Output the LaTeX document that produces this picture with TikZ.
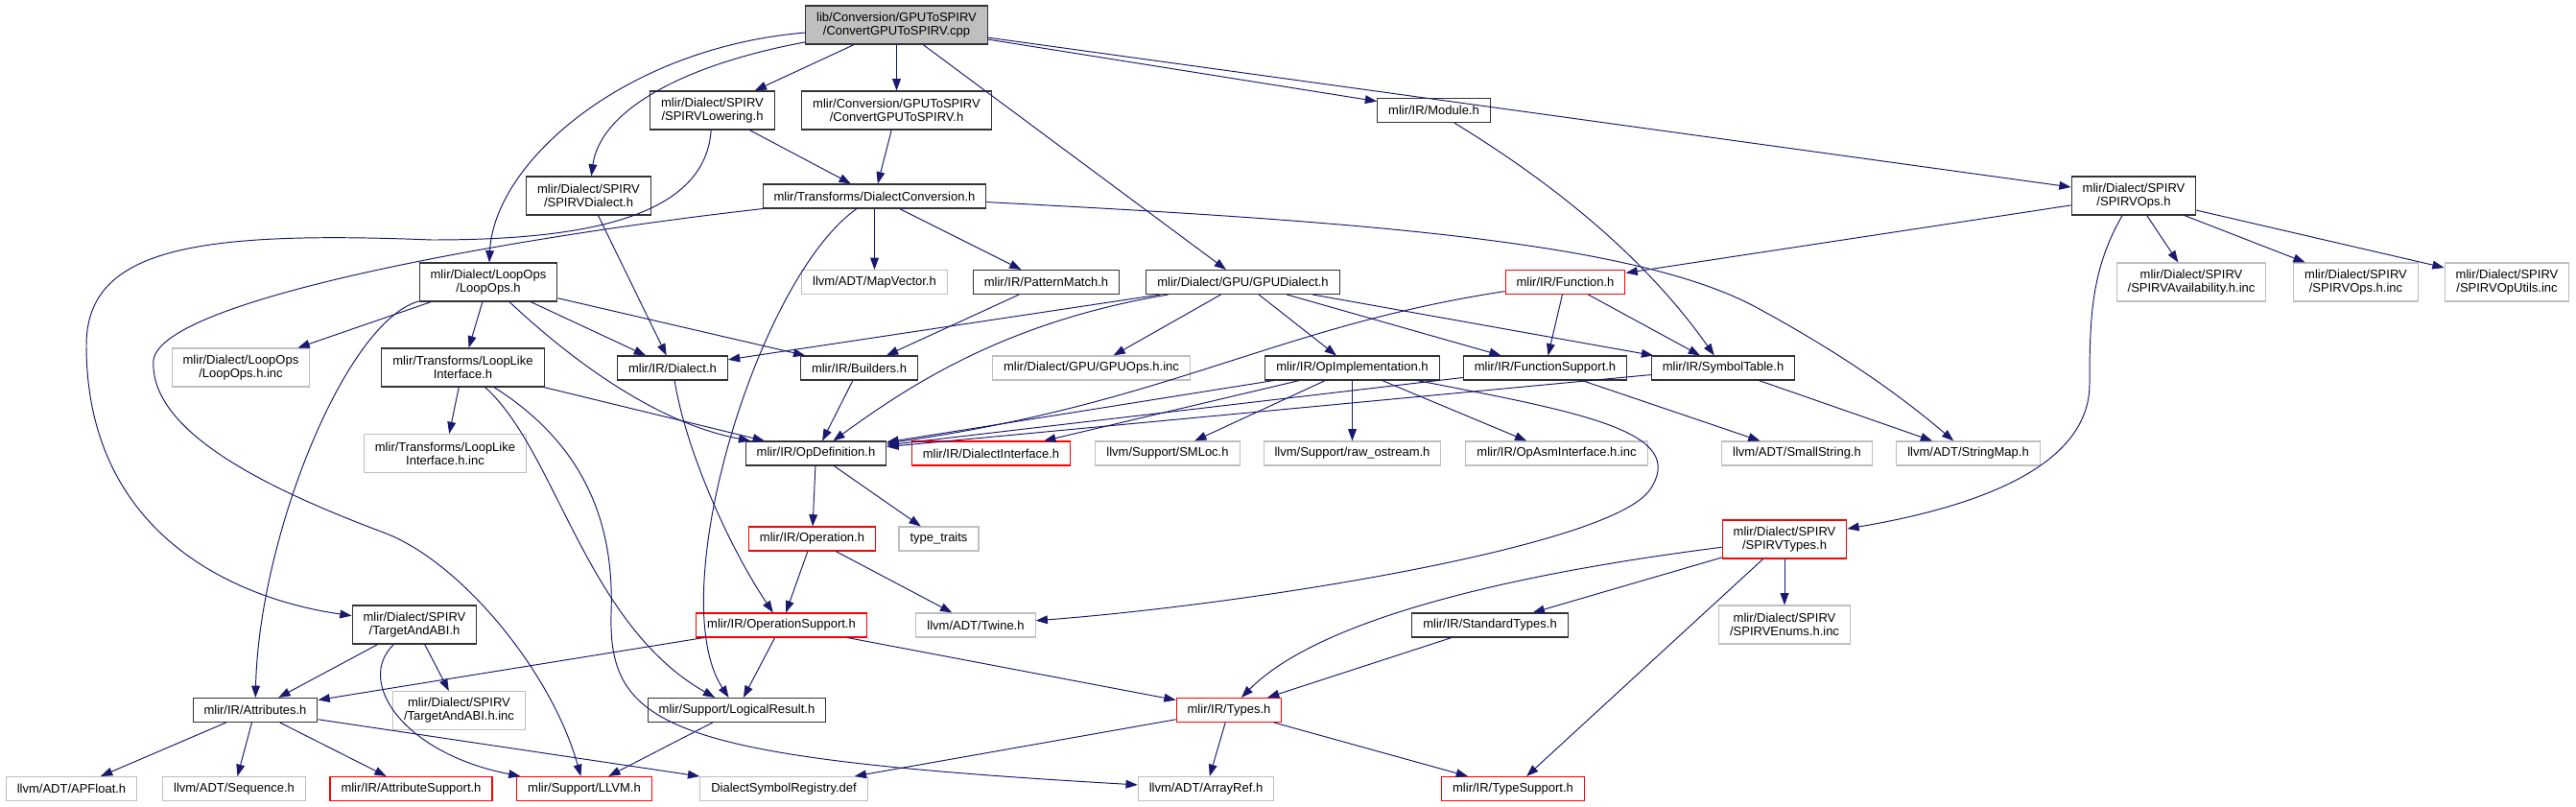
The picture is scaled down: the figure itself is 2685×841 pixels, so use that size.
\documentclass[tikz,border=0pt]{standalone}
\usepackage{fontspec}
\setmainfont{Liberation Sans}
\usetikzlibrary{arrows.meta}
\definecolor{edgeblue}{RGB}{25,25,112}
\definecolor{grey75}{RGB}{191,191,191}
\begin{document}
\begin{tikzpicture}[x=0.02cm,y=-0.02cm,
  font=\fontsize{7.4}{8}\selectfont,
  hdr/.style={draw=black!80,line width=0.6pt,align=center,inner xsep=0.23cm,inner ysep=2pt,minimum height=0.5cm},
  ext/.style={hdr,draw=grey75},
  trunc/.style={hdr,draw=red},
  two/.style={minimum height=0.8cm},
  inc/.style={draw=edgeblue,line width=0.55pt,-{Triangle[length=7pt,width=5pt]}}]
\useasboundingbox (0,0) rectangle (2685,841);
\node[hdr,two,fill=grey75] (root) at (934.5,26) {lib/Conversion/GPUToSPIRV\\/ConvertGPUToSPIRV.cpp};
\node[hdr,two] (spirvlowering) at (742.5,115) {mlir/Dialect/SPIRV\\/SPIRVLowering.h};
\node[hdr,two] (convertgpu) at (934.5,115) {mlir/Conversion/GPUToSPIRV\\/ConvertGPUToSPIRV.h};
\node[hdr] (module) at (1494.5,115) {mlir/IR/Module.h};
\node[hdr,two] (spirvdialect) at (613.5,204) {mlir/Dialect/SPIRV\\/SPIRVDialect.h};
\node[hdr] (dialectconversion) at (911.5,204.5) {mlir/Transforms/DialectConversion.h};
\node[hdr,two] (spirvops) at (2224,204) {mlir/Dialect/SPIRV\\/SPIRVOps.h};
\node[hdr,two] (loopops) at (509,294) {mlir/Dialect/LoopOps\\/LoopOps.h};
\node[ext] (mapvector) at (911.5,294) {llvm/ADT/MapVector.h};
\node[hdr] (patternmatch) at (1090.5,294) {mlir/IR/PatternMatch.h};
\node[hdr] (gpudialect) at (1295.5,294) {mlir/Dialect/GPU/GPUDialect.h};
\node[trunc] (function) at (1631.5,294) {mlir/IR/Function.h};
\node[ext,two] (spirvavail) at (2284,294) {mlir/Dialect/SPIRV\\/SPIRVAvailability.h.inc};
\node[ext,two] (spirvopsinc) at (2455.5,294) {mlir/Dialect/SPIRV\\/SPIRVOps.h.inc};
\node[ext,two] (spirvoputils) at (2613,294) {mlir/Dialect/SPIRV\\/SPIRVOpUtils.inc};
\node[ext,two] (loopopsinc) at (251,383) {mlir/Dialect/LoopOps\\/LoopOps.h.inc};
\node[hdr,two] (looplike) at (482.5,383) {mlir/Transforms/LoopLike\\Interface.h};
\node[hdr] (dialect) at (701,383.5) {mlir/IR/Dialect.h};
\node[hdr] (builders) at (895.5,383.5) {mlir/IR/Builders.h};
\node[ext] (gpuopsinc) at (1137.5,383.5) {mlir/Dialect/GPU/GPUOps.h.inc};
\node[hdr] (opimpl) at (1409.5,383.5) {mlir/IR/OpImplementation.h};
\node[hdr] (functionsupport) at (1610.5,383.5) {mlir/IR/FunctionSupport.h};
\node[hdr] (symboltable) at (1796,383.5) {mlir/IR/SymbolTable.h};
\node[ext,two] (looplikeinc) at (464,472.5) {mlir/Transforms/LoopLike\\Interface.h.inc};
\node[hdr] (opdefinition) at (850.5,472.5) {mlir/IR/OpDefinition.h};
\node[trunc] (dialectinterface) at (1033,472.5) {mlir/IR/DialectInterface.h};
\node[ext] (smloc) at (1217,472.5) {llvm/Support/SMLoc.h};
\node[ext] (rawostream) at (1409.5,472.5) {llvm/Support/raw\_ostream.h};
\node[ext] (opasm) at (1622.5,472.5) {mlir/IR/OpAsmInterface.h.inc};
\node[ext] (smallstring) at (1873,472.5) {llvm/ADT/SmallString.h};
\node[ext] (stringmap) at (2051.5,472.5) {llvm/ADT/StringMap.h};
\node[trunc] (operation) at (846.5,561.5) {mlir/IR/Operation.h};
\node[ext] (typetraits) at (978.5,561.5) {type\_traits};
\node[trunc,two] (spirvtypes) at (1860,562) {mlir/Dialect/SPIRV\\/SPIRVTypes.h};
\node[hdr,two] (targetabi) at (432,651) {mlir/Dialect/SPIRV\\/TargetAndABI.h};
\node[trunc] (opsupport) at (814.5,651.5) {mlir/IR/OperationSupport.h};
\node[ext] (twine) at (1017,651.5) {llvm/ADT/Twine.h};
\node[hdr] (standardtypes) at (1553,651.5) {mlir/IR/StandardTypes.h};
\node[ext,two] (spirvenums) at (1860,651) {mlir/Dialect/SPIRV\\/SPIRVEnums.h.inc};
\node[hdr] (attributes) at (266,740) {mlir/IR/Attributes.h};
\node[ext,two] (targetabiinc) at (478.5,740.5) {mlir/Dialect/SPIRV\\/TargetAndABI.h.inc};
\node[hdr] (logicalresult) at (768,740) {mlir/Support/LogicalResult.h};
\node[trunc] (types) at (1281,740) {mlir/IR/Types.h};
\node[ext] (apfloat) at (74.5,822) {llvm/ADT/APFloat.h};
\node[ext] (sequence) at (244,822) {llvm/ADT/Sequence.h};
\node[trunc] (attrsupport) at (428.5,822) {mlir/IR/AttributeSupport.h};
\node[trunc] (llvm) at (609,822) {mlir/Support/LLVM.h};
\node[ext] (dsr) at (817,822) {DialectSymbolRegistry.def};
\node[ext] (arrayref) at (1257,822) {llvm/ADT/ArrayRef.h};
\node[trunc] (typesupport) at (1577,822) {mlir/IR/TypeSupport.h};
\draw[inc] (root) .. controls (650,50) and (515,170) .. (loopops);
\draw[inc] (root) .. controls (700,70) and (625,120) .. (spirvdialect);
\draw[inc] (root) -- (spirvlowering);
\draw[inc] (root) -- (convertgpu);
\draw[inc] (root) -- (gpudialect);
\draw[inc] (root) -- (module);
\draw[inc] (root) -- (spirvops);
\draw[inc] (spirvlowering) -- (dialectconversion);
\draw[inc] (spirvlowering) .. controls (735,230) and (600,250) .. (450,250) .. controls (200,240) and (90,260) .. (90,360) .. controls (90,560) and (250,625) .. (targetabi);
\draw[inc] (convertgpu) -- (dialectconversion);
\draw[inc] (spirvdialect) -- (dialect);
\draw[inc] (dialectconversion) .. controls (550,245) and (170,310) .. (160,375) .. controls (155,450) and (280,510) .. (400,555) .. controls (480,585) and (575,700) .. (llvm);
\draw[inc] (dialectconversion) -- (mapvector);
\draw[inc] (dialectconversion) -- (patternmatch);
\draw[inc] (dialectconversion) .. controls (790,290) and (690,620) .. (logicalresult);
\draw[inc] (dialectconversion) .. controls (1400,230) and (1700,250) .. (1830,320) .. controls (1930,374) and (1990,420) .. (stringmap);
\draw[inc] (patternmatch) -- (builders);
\draw[inc] (loopops) -- (loopopsinc);
\draw[inc] (loopops) -- (looplike);
\draw[inc] (loopops) -- (dialect);
\draw[inc] (loopops) -- (builders);
\draw[inc] (loopops) .. controls (590,370) and (680,440) .. (opdefinition);
\draw[inc] (loopops) .. controls (360,335) and (270,560) .. (attributes);
\draw[inc] (looplike) -- (looplikeinc);
\draw[inc] (looplike) -- (opdefinition);
\draw[inc] (looplike) .. controls (580,470) and (610,650) .. (logicalresult);
\draw[inc] (looplike) .. controls (620,470) and (640,560) .. (637,640) .. controls (634,760) and (700,790) .. (arrayref);
\draw[inc] (dialect) .. controls (715,470) and (760,570) .. (opsupport);
\draw[inc] (builders) -- (opdefinition);
\draw[inc] (gpudialect) -- (dialect);
\draw[inc] (gpudialect) .. controls (1050,335) and (950,400) .. (opdefinition);
\draw[inc] (gpudialect) -- (gpuopsinc);
\draw[inc] (gpudialect) -- (opimpl);
\draw[inc] (gpudialect) -- (functionsupport);
\draw[inc] (gpudialect) -- (symboltable);
\draw[inc] (module) .. controls (1650,210) and (1730,290) .. (symboltable);
\draw[inc] (function) .. controls (1330,340) and (1220,420) .. (opdefinition);
\draw[inc] (function) -- (functionsupport);
\draw[inc] (function) -- (symboltable);
\draw[inc] (spirvops) -- (function);
\draw[inc] (spirvops) -- (spirvavail);
\draw[inc] (spirvops) -- (spirvopsinc);
\draw[inc] (spirvops) -- (spirvoputils);
\draw[inc] (spirvops) .. controls (2180,280) and (2178,330) .. (2178,400) .. controls (2178,490) and (2050,530) .. (spirvtypes);
\draw[inc] (opimpl) -- (opdefinition);
\draw[inc] (opimpl) -- (dialectinterface);
\draw[inc] (opimpl) -- (smloc);
\draw[inc] (opimpl) -- (rawostream);
\draw[inc] (opimpl) -- (opasm);
\draw[inc] (opimpl) .. controls (1650,430) and (1760,450) .. (1720,510) .. controls (1680,570) and (1300,630) .. (twine);
\draw[inc] (functionsupport) -- (opdefinition);
\draw[inc] (functionsupport) -- (smallstring);
\draw[inc] (symboltable) -- (opdefinition);
\draw[inc] (symboltable) -- (stringmap);
\draw[inc] (opdefinition) -- (operation);
\draw[inc] (opdefinition) -- (typetraits);
\draw[inc] (operation) -- (opsupport);
\draw[inc] (operation) -- (twine);
\draw[inc] (opsupport) -- (logicalresult);
\draw[inc] (opsupport) -- (attributes);
\draw[inc] (opsupport) -- (types);
\draw[inc] (targetabi) -- (attributes);
\draw[inc] (targetabi) -- (targetabiinc);
\draw[inc] (targetabi) .. controls (370,710) and (420,785) .. (llvm);
\draw[inc] (attributes) -- (apfloat);
\draw[inc] (attributes) -- (sequence);
\draw[inc] (attributes) -- (attrsupport);
\draw[inc] (attributes) -- (dsr);
\draw[inc] (logicalresult) -- (llvm);
\draw[inc] (types) -- (dsr);
\draw[inc] (types) -- (arrayref);
\draw[inc] (types) -- (typesupport);
\draw[inc] (spirvtypes) .. controls (1600,595) and (1380,640) .. (types);
\draw[inc] (spirvtypes) -- (standardtypes);
\draw[inc] (spirvtypes) -- (typesupport);
\draw[inc] (spirvtypes) -- (spirvenums);
\draw[inc] (standardtypes) -- (types);
\end{tikzpicture}
\end{document}
